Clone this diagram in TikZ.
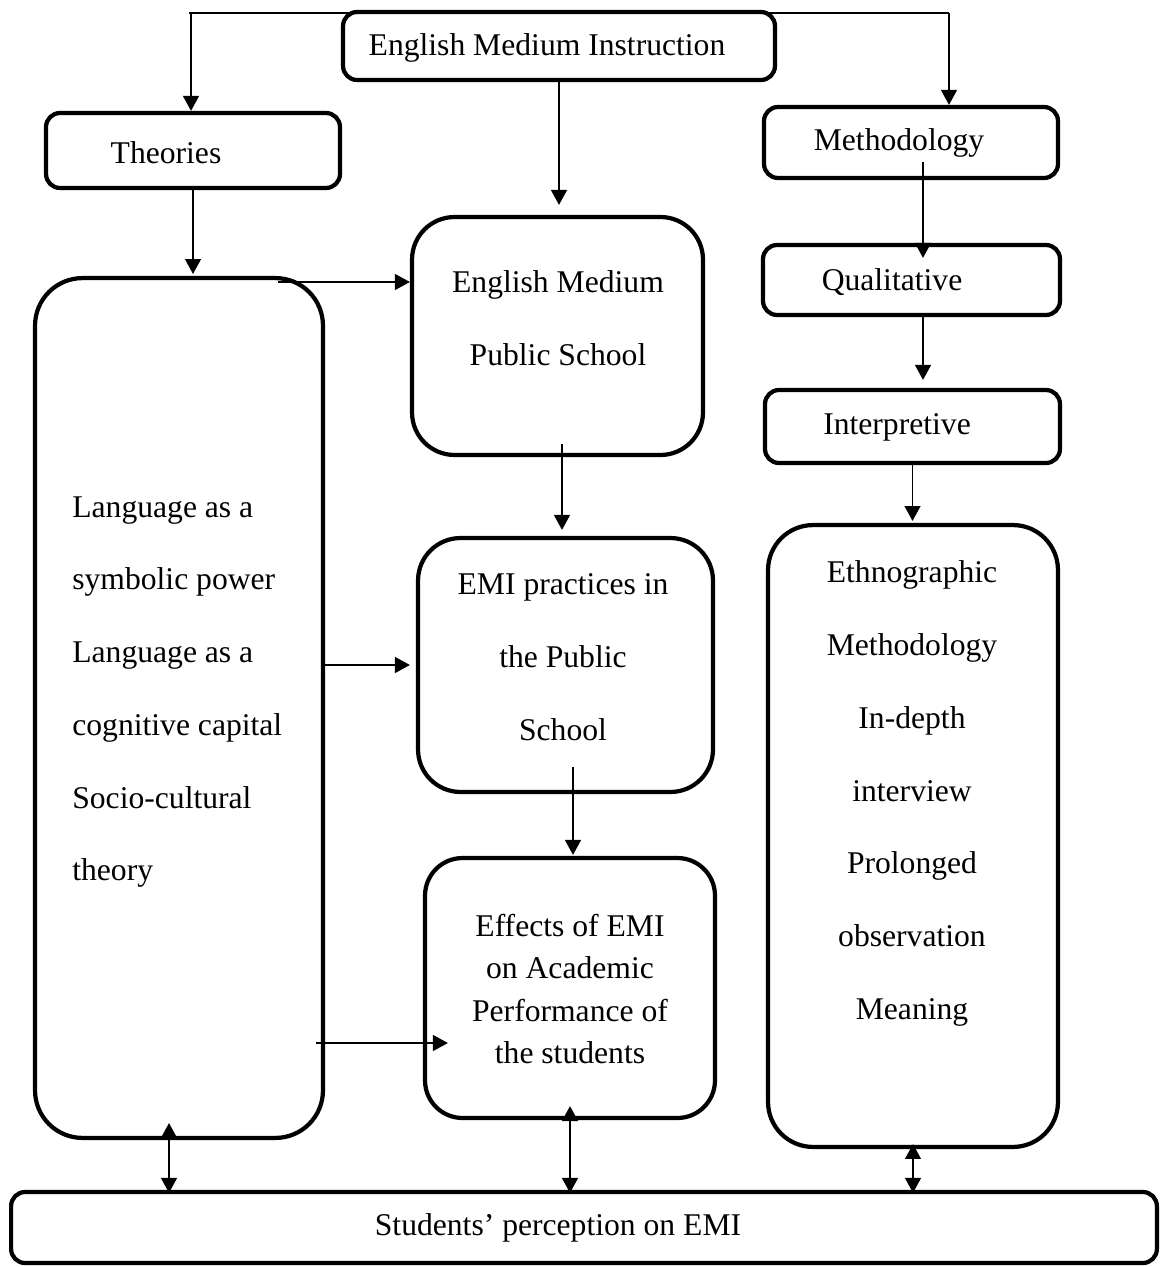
\documentclass[tikz,border=0pt]{standalone}
\usepackage{fontspec}
\setmainfont{Liberation Serif}
\usetikzlibrary{arrows.meta}
\begin{document}
\begin{tikzpicture}[
  x=0.02cm, y=-0.02cm,
  box/.style={draw, line width=2.4pt, rounded corners=0.28cm, inner sep=0pt},
  tallbox/.style={box, rounded corners=0.85cm},
  txt/.style={font=\fontsize{18}{24.2}\selectfont, align=center, inner sep=0pt},
  wide/.style={txt, font=\fontsize{18}{41.4}\selectfont},
  arr/.style={line width=1pt, -{Triangle[length=8.5pt,width=9pt]}},
  dbl/.style={line width=1pt, {Triangle[length=8.5pt,width=9pt]}-{Triangle[length=8.5pt,width=9pt]}}
]
\useasboundingbox (0,0) rectangle (1163,1267);
% boxes
\node[box, minimum width=8.64cm, minimum height=1.36cm] (emi) at (559,46) {};
\node[box, minimum width=5.88cm, minimum height=1.5cm] (theo) at (193,150.5) {};
\node[box, minimum width=5.88cm, minimum height=1.42cm] (meth) at (911,142.5) {};
\node[tallbox, minimum width=5.82cm, minimum height=4.76cm] (emps) at (557.5,336) {};
\node[box, minimum width=5.94cm, minimum height=1.4cm] (qual) at (911.5,280) {};
\node[box, minimum width=5.9cm, minimum height=1.46cm] (interp) at (912.5,426.5) {};
\node[tallbox, rounded corners=0.95cm, minimum width=5.76cm, minimum height=17.2cm] (lang) at (179,708) {};
\node[tallbox, minimum width=5.9cm, minimum height=5.08cm] (prac) at (565.5,665) {};
\node[tallbox, rounded corners=0.75cm, minimum width=5.8cm, minimum height=5.2cm] (eff) at (570,988) {};
\node[tallbox, rounded corners=0.9cm, minimum width=5.8cm, minimum height=12.44cm] (ethno) at (913,836) {};
\node[box, minimum width=22.92cm, minimum height=1.42cm] (perc) at (584,1227.5) {};
% texts
\node[txt] (emiT) at (547,48) {English Medium Instruction};
\node[txt] (theoT) at (166,153) {Theories};
\node[txt] (methT) at (899,143) {Methodology};
\node[txt] (qualT) at (892,282) {Qualitative};
\node[txt] (interpT) at (897,427) {Interpretive};
\node[wide] (empsT) at (558,318.5) {English Medium\\Public School};
\node[wide, align=left, anchor=west] (langT) at (72,692) {Language as a\\symbolic power\\Language as a\\cognitive capital\\Socio-cultural\\theory};
\node[wide] (pracT) at (563,657) {EMI practices in\\the Public\\School};
\node[txt] (effT) at (570,989) {Effects of EMI\\on Academic\\Performance of\\the students};
\node[wide] (ethnoT) at (912,793.5) {Ethnographic\\Methodology\\In-depth\\interview\\Prolonged\\observation\\Meaning};
\node[txt] (percT) at (558,1228) {Students’ perception on EMI};
% connectors
\coordinate (busL) at (191,13);
\coordinate (busR) at (949,13);
\draw[line width=1pt] ([xshift=-0.04cm]busL) -- (busR);
\draw[arr] (busL) -- (busL |- theo.north);
\draw[arr] (busR) -- (busR |- meth.north);
\draw[arr, shorten >=0.2cm] (emi.south) -- (emi.south |- emps.north);
\draw[arr, shorten >=0.04cm] (theo.south) -- (theo.south |- lang.north);
\draw[arr, shorten <=-0.36cm, shorten >=-0.3cm] ([xshift=0.24cm]meth.south) -- ([xshift=0.24cm]meth.south |- qual.north);
\draw[arr, shorten >=0.16cm] ([xshift=0.23cm]qual.south) -- ([xshift=0.23cm]qual.south |- interp.north);
\draw[arr, shorten >=0.04cm] (interp.south) -- (interp.south |- ethno.north);
\draw[arr, shorten <=-0.26cm, shorten >=0.12cm] ([xshift=0.09cm]emps.south) -- ([xshift=0.09cm]emps.south |- prac.north);
\draw[arr, shorten <=-0.54cm, shorten >=0.02cm] ([xshift=0.15cm]prac.south) -- ([xshift=0.15cm]prac.south |- eff.north);
\coordinate (l1) at (278,282);
\coordinate (l2) at (325,665);
\coordinate (l3) at (316,1043);
\draw[arr] (l1) -- (l1 -| emps.west);
\draw[arr, shorten >=0.12cm] (l2) -- (l2 -| prac.west);
\draw[arr, shorten >=-0.5cm] (l3) -- (l3 -| eff.west);
\foreach \src/\dx/\s in {lang/-0.2cm/-0.34cm, eff/0cm/-0.28cm, ethno/0cm/-0.1cm}
  \draw[dbl, shorten <=\s, shorten >=-0.06cm] ([xshift=\dx]\src.south) -- ([xshift=\dx]\src.south |- perc.north);
\end{tikzpicture}
\end{document}
